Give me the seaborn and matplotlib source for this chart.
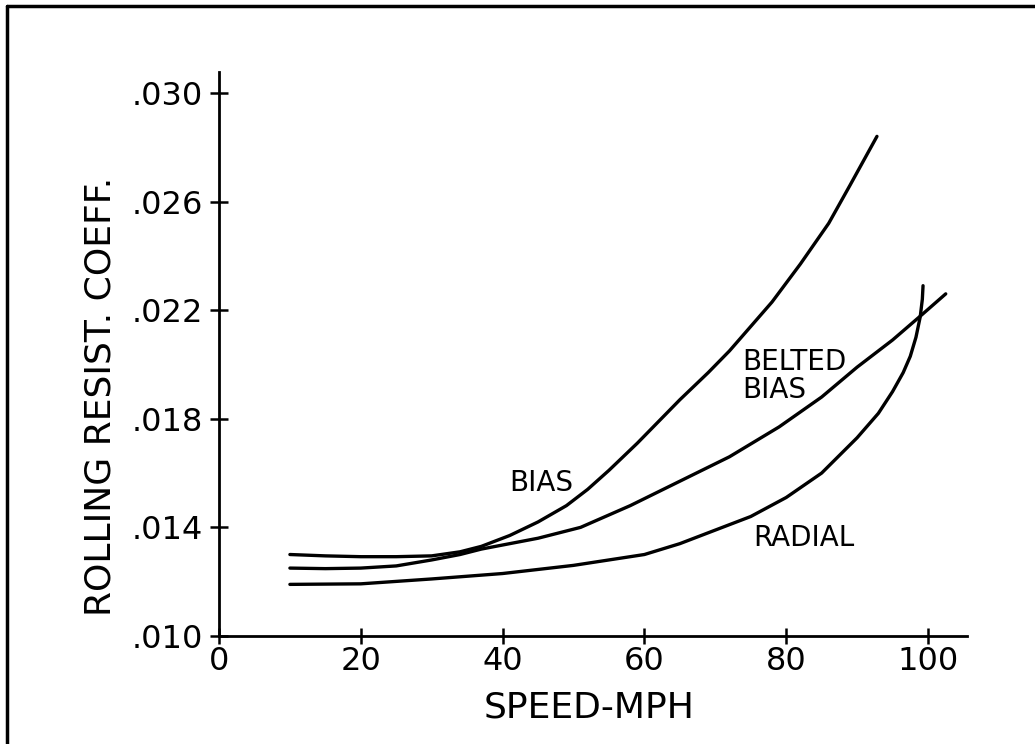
import matplotlib
matplotlib.use("Agg")
import matplotlib.pyplot as plt
import matplotlib.lines as mlines
import seaborn as sns
import pandas as pd

# ---- data ----
bias_speed = [10, 15, 20, 25, 30, 34, 37, 41, 45, 49, 52, 55, 59, 62, 65, 69, 72, 75, 78, 82, 86, 89, 92.8]
bias_coeff = [0.0130, 0.01295, 0.01292, 0.01292, 0.01295, 0.0131, 0.0133, 0.0137, 0.0142, 0.0148, 0.0154, 0.0161, 0.0171, 0.0179, 0.0187, 0.0197, 0.0205, 0.0214, 0.0223, 0.0237, 0.0252, 0.0266, 0.0284]

belted_speed = [10, 15, 20, 25, 30, 34, 37, 41, 45, 51, 58, 65, 72, 79, 85, 90, 95, 99, 102.5]
belted_coeff = [0.0125, 0.01248, 0.0125, 0.01258, 0.0128, 0.0130, 0.0132, 0.0134, 0.0136, 0.0140, 0.0148, 0.0157, 0.0166, 0.0177, 0.0188, 0.0199, 0.0209, 0.0218, 0.0226]

radial_speed = [10, 20, 30, 40, 50, 60, 65, 70, 75, 80, 85, 90, 93, 95, 96.5, 97.5, 98.3, 98.9, 99.2, 99.3]
radial_coeff = [0.0119, 0.01192, 0.0121, 0.0123, 0.0126, 0.0130, 0.0134, 0.0139, 0.0144, 0.0151, 0.0160, 0.0173, 0.0182, 0.0190, 0.0197, 0.0203, 0.0210, 0.02175, 0.0224, 0.0229]

series_names = ["BIAS", "BELTED BIAS", "RADIAL"]

x_ticks = [0, 20, 40, 60, 80, 100]
x_ticklabels = ["0", "20", "40", "60", "80", "100"]
y_ticks = [0.010, 0.014, 0.018, 0.022, 0.026, 0.030]
y_ticklabels = [".010", ".014", ".018", ".022", ".026", ".030"]

x_label = "SPEED-MPH"
y_label = "ROLLING RESIST. COEFF."

df = pd.concat([
    pd.DataFrame({"speed": bias_speed, "coeff": bias_coeff, "tire": series_names[0]}),
    pd.DataFrame({"speed": belted_speed, "coeff": belted_coeff, "tire": series_names[1]}),
    pd.DataFrame({"speed": radial_speed, "coeff": radial_coeff, "tire": series_names[2]}),
], ignore_index=True)

sns.set_theme(style="white")
plt.rcParams["font.family"] = ["DejaVu Sans"]

fig = plt.figure(figsize=(10.35, 7.44), dpi=100)
ax = fig.add_axes([0.2116, 0.1452, 0.7227, 0.758])

sns.lineplot(data=df, x="speed", y="coeff", hue="tire", units="tire",
             estimator=None, palette=["black"] * 3, linewidth=2.4,
             legend=False, ax=ax)

ax.set_xlim(0, 105.5)
ax.set_ylim(0.010, 0.03077)
ax.set_xticks(x_ticks)
ax.set_xticklabels(x_ticklabels)
ax.set_yticks(y_ticks)
ax.set_yticklabels(y_ticklabels)

for s in ["top", "right"]:
    ax.spines[s].set_visible(False)
for s in ["left", "bottom"]:
    ax.spines[s].set_color("black")
    ax.spines[s].set_linewidth(2.0)

ax.tick_params(axis="y", direction="inout", length=13, width=1.8, colors="black",
               labelsize=23, pad=5, left=True)
ax.tick_params(axis="x", direction="inout", length=11, width=1.8, colors="black",
               labelsize=23, pad=2, bottom=True)

ax.set_xlabel(x_label, fontsize=26, color="black")
ax.set_ylabel(y_label, fontsize=26, color="black")
ax.xaxis.set_label_coords(0.495, -0.097)
ax.yaxis.set_label_coords(-0.136, 0.425)

ax.text(45.5, 0.01564, "BIAS", fontsize=20, ha="center", va="center", color="black")
ax.text(73.8, 0.01958, "BELTED\nBIAS", fontsize=20, ha="left", va="center",
        color="black", linespacing=1.0)
ax.text(75.3, 0.01361, "RADIAL", fontsize=20, ha="left", va="center", color="black")

# page frame (top and left edges)
fig.add_artist(mlines.Line2D([7 / 1035, 1.0], [1 - 6 / 744, 1 - 6 / 744],
                             transform=fig.transFigure, color="black", linewidth=2.5))
fig.add_artist(mlines.Line2D([7 / 1035, 7 / 1035], [0.0, 1 - 6 / 744],
                             transform=fig.transFigure, color="black", linewidth=2.5))

fig.savefig("out.png", dpi=100, facecolor="white")
